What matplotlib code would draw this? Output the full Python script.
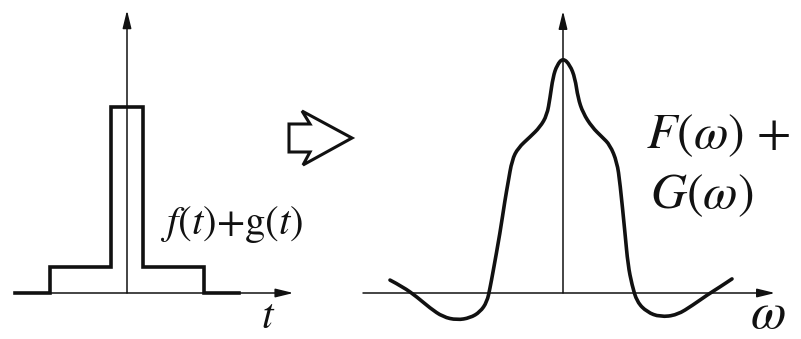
import matplotlib.pyplot as plt
from matplotlib.patches import Polygon, PathPatch
from matplotlib.path import Path

plt.rcParams['mathtext.fontset'] = 'stix'

# time signal: narrow tall pulse on top of a wide low pulse (step edges)
t_edges = [-7.0, -4.8, -1.0, 1.0, 4.8, 7.0]
ft_level = [0.0, 0.14, 1.0, 0.14, 0.0, 0.0]

# spectrum F(w)+G(w), read point by point
omega = [-3.46, -3.20, -2.92, -2.66, -2.40, -2.12, -1.86, -1.66, -1.52, -1.46,
         -1.40, -1.26, -1.16, -1.10, -1.02, -0.90, -0.66, -0.46, -0.32, -0.26,
         -0.20, -0.12, 0.0,
         0.14, 0.24, 0.30, 0.40, 0.58, 0.78, 0.94, 1.08, 1.14, 1.24,
         1.30, 1.38, 1.48, 1.68, 1.94, 2.28, 2.60, 2.88, 3.14, 3.38]
spectrum = [0.055, 0.026, -0.017, -0.064, -0.102, -0.115, -0.106, -0.081, -0.038, 0.021,
            0.089, 0.255, 0.396, 0.468, 0.566, 0.617, 0.664, 0.706, 0.757, 0.830,
            0.919, 0.970, 1.0,
            0.970, 0.915, 0.830, 0.766, 0.706, 0.664, 0.630, 0.557, 0.468, 0.255,
            0.119, 0.034, -0.038, -0.081, -0.102, -0.094, -0.051, -0.009, 0.026, 0.060]

ink = '#111111'
W, H = 801, 339
fig = plt.figure(figsize=(W / 100, H / 100), dpi=100)


def axis_arrow(ax, start, end):
    ax.annotate('', xy=end, xytext=start,
                arrowprops=dict(arrowstyle='-|>,head_length=0.9,head_width=0.22',
                                lw=1.1, color=ink, shrinkA=0, shrinkB=0,
                                mutation_scale=12))


def smooth_path(xs, ys):
    # quadratic bezier chain: read points act as control points
    pts = list(zip(xs, ys))
    verts = [pts[0]]
    codes = [Path.MOVETO]
    for i in range(1, len(pts) - 1):
        mid = ((pts[i][0] + pts[i + 1][0]) / 2, (pts[i][1] + pts[i + 1][1]) / 2)
        verts += [pts[i], mid]
        codes += [Path.CURVE3, Path.CURVE3]
    verts.append(pts[-1])
    codes.append(Path.LINETO)
    return Path(verts, codes)


# left panel: 16 px per time unit, 186 px per unit height
axl = fig.add_axes([0, 0, 304 / W, 1])
axl.set_xlim(-127 / 16, (304 - 127) / 16)
axl.set_ylim((293 - 339) / 186, 293 / 186)
axl.axis('off')
axis_arrow(axl, (-7.0, 0), (10.4, 0))
axis_arrow(axl, (0, 0), (0, 1.52))
axl.step(t_edges, ft_level, where='post', color=ink, lw=2.6,
         solid_joinstyle='miter')

# right panel: 50 px per omega unit, 235 px per unit height
axr = fig.add_axes([340 / W, 0, 461 / W, 1])
axr.set_xlim((340 - 563) / 50, (801 - 563) / 50)
axr.set_ylim((293 - 339) / 235, 293 / 235)
axr.axis('off')
axis_arrow(axr, (-4.0, 0), (4.24, 0))
axis_arrow(axr, (0, 0), (0, 1.2))
axr.add_patch(PathPatch(smooth_path(omega, spectrum), fill=False, ec=ink,
                        lw=2.6, capstyle='round', joinstyle='round'))

# overlay in pixel units for labels and the transform arrow
ov = fig.add_axes([0, 0, 1, 1])
ov.set_xlim(0, W)
ov.set_ylim(H, 0)
ov.axis('off')
ov.patch.set_alpha(0)

big = Polygon([(289, 124), (310, 124), (302, 111), (352, 138),
               (303, 165), (310, 152), (289, 152)],
              closed=True, fill=False, ec=ink, lw=2.2, joinstyle='miter')
ov.add_patch(big)

serif = 'STIXGeneral'
ov.text(160, 234, r'$f(t)$+g$(t)$', fontsize=29.5, family=serif,
        ha='left', va='baseline', color=ink)
ov.text(268, 328, r'$t$', fontsize=30, family=serif,
        ha='center', va='baseline', color=ink)
ov.text(646, 148, r'$F(\omega)$ +', fontsize=36, family=serif,
        ha='left', va='baseline', color=ink)
ov.text(650, 208, r'$G(\omega)$', fontsize=36, family=serif,
        ha='left', va='baseline', color=ink)
ov.text(768, 328, r'$\omega$', fontsize=37, family=serif,
        ha='center', va='baseline', color=ink)

fig.savefig('out.png', dpi=100, facecolor='white')
